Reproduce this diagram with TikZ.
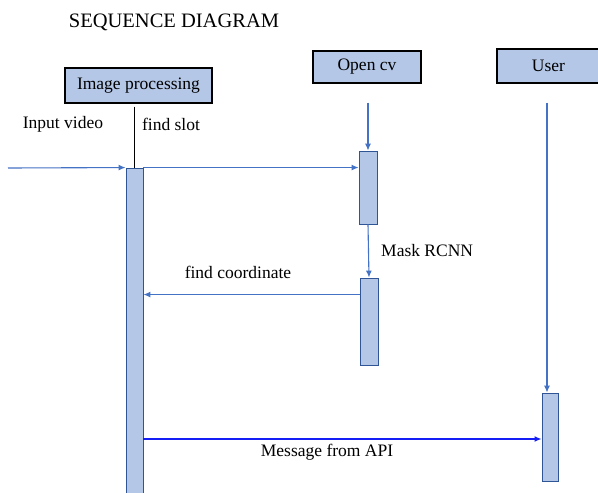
\documentclass[tikz,border=0pt]{standalone}
\usepackage{fontspec}
\setmainfont{Liberation Serif}
\definecolor{barfill}{RGB}{180,199,231}
\definecolor{bardraw}{RGB}{47,85,151}
\definecolor{msgblue}{RGB}{68,114,196}
\definecolor{apiblue}{RGB}{20,30,245}
\usetikzlibrary{arrows.meta, positioning, calc}
\tikzset{
  actor/.style={
    rectangle, draw=black, line width=1.3pt,
    fill=barfill, font=\fontsize{17.5}{19}\selectfont,
    inner sep=0pt
  },
  actbar/.style={rectangle, draw=bardraw, line width=0.9pt, fill=barfill, inner sep=0pt},
  lbl/.style={font=\fontsize{17.5}{19}\selectfont, inner sep=0pt},
  arrow/.style={-{Latex[length=7pt,width=6pt]}, line width=1.1pt, msgblue},
  arrowB/.style={-{Latex[length=7pt,width=6pt]}, line width=1.3pt, apiblue}
}
\begin{document}
\begin{tikzpicture}[x=1pt, y=-1pt]
  \useasboundingbox (0,0) rectangle (598,493);
  % Title
  \node[lbl, font=\fontsize{20.5}{22}\selectfont] (title) at (174,22) {SEQUENCE DIAGRAM};

  % Draw actors
  \node[actor, minimum width=147pt, minimum height=35pt] (imgbox) at (138.5,85.5) {Image processing};
  \node[actor, minimum width=108pt, minimum height=32pt] (cvbox) at (367,67) {Open cv};
  \node[actor, minimum width=103pt, minimum height=34pt] (userbox) at (548.5,66) {User};

  % Draw activation bars
  \node[actbar, minimum width=17pt, minimum height=332pt] (bar1) at (134.5,334) {};
  \node[actbar, minimum width=18pt, minimum height=73pt] (bar2) at (368,187.5) {};
  \node[actbar, minimum width=18pt, minimum height=87pt] (bar3) at (369,321.5) {};
  \node[actbar, minimum width=16pt, minimum height=88pt] (bar4) at (550,437) {};

  % Draw lifelines
  \draw[line width=0.8pt, shorten <=3pt] (bar1.north |- imgbox.south) -- (bar1.north);
  \draw[arrow, shorten <=19pt] (bar2.north |- cvbox.south) -- (bar2.north);
  \draw[arrow] ($(userbox.south)+(-1.5,19)$) -- ($(bar4.north)+(-3,0)$);

  % Draw messages
  \coordinate (src) at (8,168);
  \draw[arrow] (src) -- (bar1.north west);
  \node[lbl] (inlbl) at (63,124) {Input video};
  \node[lbl] (slotlbl) at (171,124) {find slot};
  \draw[arrow] (bar1.north east) -- (bar2.west |- bar1.north east);

  \draw[arrow] (bar2.south) -- (bar3.north);
  \node[lbl, anchor=west] (masklbl) at (381,251) {Mask RCNN};

  \draw[arrow] ($(bar3.north west)+(0,17)$) -- (bar1.east |- {$(bar3.north west)+(0,17)$});
  \node[lbl] (coordlbl) at (238,272) {find coordinate};

  \draw[arrowB] (bar1.east |- 0,439) -- (bar4.west |- 0,439);
  \node[lbl] (apilbl) at (327,452) {Message from API};
\end{tikzpicture}
\end{document}
